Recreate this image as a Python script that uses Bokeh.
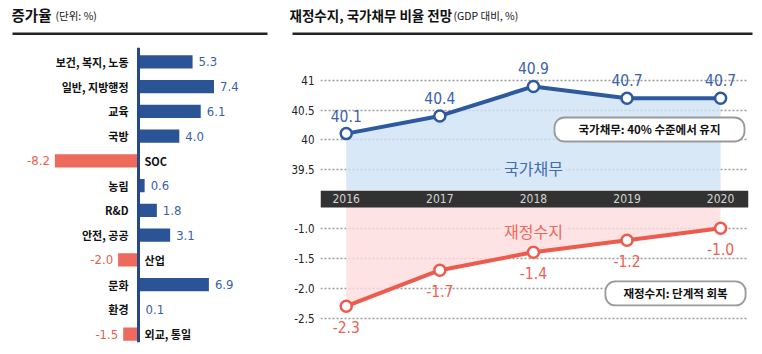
from bokeh.plotting import figure
from bokeh.layouts import row, column
from bokeh.models import (Range1d, Label, LabelSet, BoxAnnotation, Span, FixedTicker,
                          ColumnDataSource, NumeralTickFormatter)
from bokeh.core.properties import value
from bokeh.embed import file_html
from bokeh.resources import INLINE

# ---------------- data ----------------
categories = ["보건, 복지, 노동", "일반, 지방행정", "교육", "국방", "SOC", "농림",
              "R&D", "안전, 공공", "산업", "문화", "환경", "외교, 통일"]
growth = [5.3, 7.4, 6.1, 4.0, -8.2, 0.6, 1.8, 3.1, -2.0, 6.9, 0.1, -1.5]

years = [2016, 2017, 2018, 2019, 2020]
debt = [40.1, 40.4, 40.9, 40.7, 40.7]
balance = [-2.3, -1.7, -1.4, -1.2, -1.0]
debt_ticks = [39.5, 40, 40.5, 41]
balance_ticks = [-2.5, -2.0, -1.5, -1.0]

left_title = "증가율"
left_unit = "(단위: %)"
right_title = "재정수지, 국가채무 비율 전망"
right_unit = "(GDP 대비, %)"
debt_name = "국가채무"
balance_name = "재정수지"
debt_note = "국가채무: 40% 수준에서 유지"
balance_note = "재정수지: 단계적 회복"

# ---------------- style ----------------
KR = "Noto Sans CJK KR"
NUM = "DejaVu Sans Condensed"
BLUE = "#2a5496"
RED = "#ee6a5d"
BLUE_T = "#3a5fa6"
RED_T = "#ea5e4e"
LINE_BLUE = "#2d5a9e"
LINE_RED = "#ec5b4c"
GRID = "#9a9a9a"


def clean(p):
    p.outline_line_color = None
    p.background_fill_color = None
    p.border_fill_color = None
    for g in p.xgrid:
        g.visible = False


# ---------------- title strip ----------------
head = figure(width=762, height=40, output_backend="svg", toolbar_location=None,
              x_range=Range1d(0, 1), y_range=Range1d(0, 1),
              min_border_left=0, min_border_right=0, min_border_top=0, min_border_bottom=0,
              x_axis_location=None, y_axis_location=None)
clean(head)
for g in head.ygrid:
    g.visible = False


def screen_label(p, x, y, text, size, bold=False):
    p.add_layout(Label(x=x, y=y, x_units="screen", y_units="screen", text=text,
                       text_baseline="middle", text_font=KR, text_font_size=size,
                       text_font_style="bold" if bold else "normal", text_color="#111111"))


def screen_rule(p, x0, x1, y0, y1):
    p.add_layout(BoxAnnotation(left=x0, right=x1, bottom=y0, top=y1,
                               left_units="screen", right_units="screen",
                               bottom_units="screen", top_units="screen",
                               fill_color="#222222", fill_alpha=1, line_color=None))


screen_label(head, 11, 26, left_title, "14.5px", bold=True)
screen_label(head, 55, 25, left_unit, "10.5px")
screen_label(head, 289, 26, right_title, "13.5px", bold=True)
screen_label(head, 453, 25, right_unit, "10.5px")
screen_rule(head, 12, 267, 5.5, 8)
screen_rule(head, 292, 752, 5.5, 8)

# ---------------- left panel ----------------
left = figure(width=280, height=314, output_backend="svg", toolbar_location=None,
              x_range=Range1d(-13.53, 13.92), y_range=Range1d(11.339, -0.582),
              min_border_left=0, min_border_right=0, min_border_top=7, min_border_bottom=12,
              x_axis_location=None, y_axis_location=None)
clean(left)
for g in left.ygrid:
    g.visible = False

n = len(categories)
src = ColumnDataSource(dict(
    y=list(range(n)),
    v=growth,
    color=[BLUE if v >= 0 else RED for v in growth],
    tcolor=[BLUE_T if v >= 0 else RED_T for v in growth],
    lab=[f"{v:.1f}" for v in growth],
    cat=categories,
    zero=[0] * n,
    cat_align=["right" if v >= 0 else "left" for v in growth],
    cat_off=[-10 if v >= 0 else 6 for v in growth],
    val_align=["left" if v >= 0 else "right" for v in growth],
    val_off=[6 if v >= 0 else -5 for v in growth],
))
left.hbar(y="y", left=0, right="v", height=0.54, fill_color="color", line_color=None, source=src)
left.text(x="zero", y="y", text="cat", text_align="cat_align", x_offset="cat_off",
          text_baseline="middle", text_font=value(KR), text_font_size="11px",
          text_font_style="bold", text_color="#111111", source=src)
left.text(x="v", y="y", text="lab", text_align="val_align", x_offset="val_off",
          text_baseline="middle", text_font=value(NUM), text_font_size="13px",
          text_color="tcolor", source=src)
left.add_layout(Span(location=0, dimension="height", line_color="#24488a", line_width=3))

# ---------------- right panel: debt ----------------
xr = Range1d(2015.725, 2020.298)
top = figure(width=482, height=150, output_backend="svg", toolbar_location=None,
             x_range=xr, y_range=Range1d(39.136, 41.678),
             min_border_left=40, min_border_right=14, min_border_top=0, min_border_bottom=0,
             x_axis_location=None, y_axis_location="left")
clean(top)


def style_yaxis(p, ticks, fmt):
    ax = p.yaxis[0]
    ax.ticker = FixedTicker(ticks=ticks)
    ax.formatter = NumeralTickFormatter(format=fmt)
    ax.axis_line_color = None
    ax.major_tick_line_color = None
    ax.minor_tick_line_color = None
    ax.major_tick_out = 0
    ax.major_tick_in = 0
    ax.major_label_standoff = 6
    ax.major_label_text_font = NUM
    ax.major_label_text_font_size = "11.5px"
    ax.major_label_text_color = "#222222"
    for g in p.ygrid:
        g.ticker = FixedTicker(ticks=ticks)
        g.grid_line_color = GRID
        g.grid_line_dash = "2 2"
        g.grid_line_width = 1.5


style_yaxis(top, debt_ticks, "0.[0]")

top.varea(x=years, y1=debt, y2=39.0, fill_color="#cee2f4", fill_alpha=0.8)
top.line(years, debt, line_color=LINE_BLUE, line_width=4)
top.scatter(years, debt, size=11, fill_color="white", line_color=LINE_BLUE, line_width=2.5)
top.text(x=years, y=debt, text=[f"{v:.1f}" for v in debt], text_align="center",
         text_baseline="middle", y_offset=-18, text_font=value(NUM), text_font_size="15.5px",
         text_color="#3b62aa")
top.add_layout(Label(x=2018, y=39.51, text=debt_name, text_align="center", text_baseline="middle",
                     text_font=KR, text_font_size="16px", text_color="#3f6cb0",
                     background_fill_color="#d8e8f6", padding=3))
top.add_layout(Label(x=2019.24, y=40.17, text=debt_note, text_align="center", text_baseline="middle",
                     text_font=KR, text_font_size="11.5px", text_font_style="bold",
                     text_color="#111111", background_fill_color="white",
                     border_line_color="#9a9a9a", border_line_width=1.8,
                     padding=(24, 4), border_radius=10))

# ---------------- right panel: balance ----------------
bot = figure(width=482, height=164, output_backend="svg", toolbar_location=None,
             x_range=xr, y_range=Range1d(-3.105, -0.372),
             min_border_left=40, min_border_right=14, min_border_top=0, min_border_bottom=0,
             x_axis_location=None, y_axis_location="left")
clean(bot)
style_yaxis(bot, balance_ticks, "0.0")

bot.varea(x=years, y1=-0.3, y2=balance, fill_color="#fcdcdc", fill_alpha=0.8)
bot.line(years, balance, line_color=LINE_RED, line_width=4)
bot.scatter(years, balance, size=11, fill_color="white", line_color=LINE_RED, line_width=2.5)
bot.text(x=years, y=balance, text=[f"{v:.1f}" for v in balance], text_align="center",
         text_baseline="middle", y_offset=21, text_font=value(NUM), text_font_size="15.5px",
         text_color="#ee5f50")
bot.add_layout(Label(x=2018, y=-1.04, text=balance_name, text_align="center", text_baseline="middle",
                     text_font=KR, text_font_size="16px", text_color="#f0675a",
                     background_fill_color="#fde3e3", padding=3))
bot.add_layout(Label(x=2019.518, y=-2.088, text=balance_note, text_align="center",
                     text_baseline="middle", text_font=KR, text_font_size="11.5px",
                     text_font_style="bold", text_color="#111111", background_fill_color="white",
                     border_line_color="#9a9a9a", border_line_width=1.8,
                     padding=(18, 4), border_radius=10))

bot.add_layout(BoxAnnotation(bottom=-0.655, fill_color="#323232", fill_alpha=1, line_color=None))
ysrc = ColumnDataSource(dict(x=years, t=[str(y) for y in years]))
bot.add_layout(LabelSet(x="x", y=-0.513, text="t", source=ysrc, text_align="center",
                        text_baseline="middle", text_font=value(NUM), text_font_size="12px",
                        text_color="#d4d4d4"))

layout = column(head, row(left, column(top, bot, spacing=0), spacing=0), spacing=0)

with open("out.html", "w") as f:
    f.write(file_html(layout, INLINE))
